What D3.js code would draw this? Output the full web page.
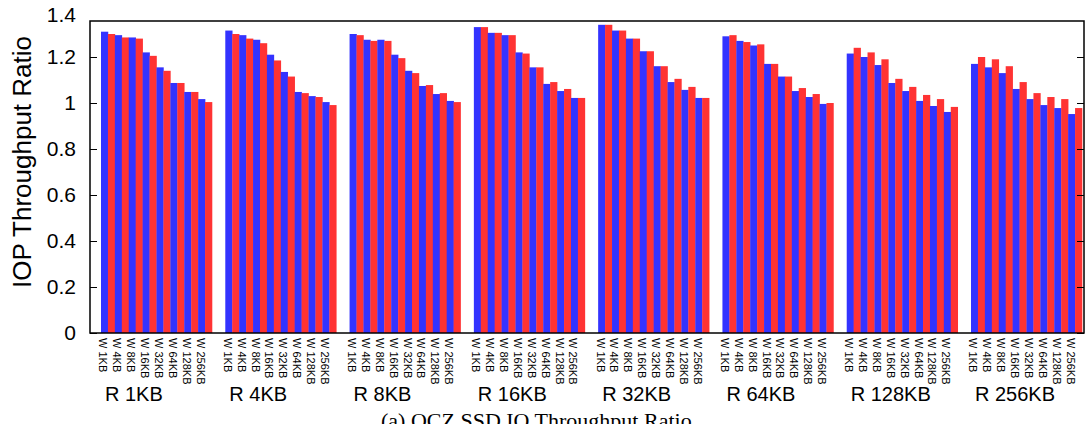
<!DOCTYPE html>
<html><head><meta charset="utf-8">
<script src="https://cdn.jsdelivr.net/npm/d3@7"></script>
<style>body{margin:0;background:#fff}svg{display:block}</style>
</head><body>
<svg id="c" width="1086" height="424"></svg>
<script>
const groups = ["R 1KB","R 4KB","R 8KB","R 16KB","R 32KB","R 64KB","R 128KB","R 256KB"];
const writeSizes = ["W 1KB","W 4KB","W 8KB","W 16KB","W 32KB","W 64KB","W 128KB","W 256KB"];
const yTicks = [0,0.2,0.4,0.6,0.8,1,1.2,1.4];
const blueRatio = [
  [1.31,1.295,1.285,1.22,1.155,1.087,1.048,1.017],
  [1.315,1.295,1.275,1.21,1.135,1.048,1.030,1.004],
  [1.30,1.275,1.275,1.21,1.14,1.074,1.039,1.009],
  [1.33,1.305,1.295,1.22,1.155,1.083,1.052,1.022],
  [1.34,1.315,1.28,1.225,1.16,1.091,1.057,1.022],
  [1.29,1.27,1.25,1.17,1.115,1.052,1.026,0.996],
  [1.215,1.20,1.165,1.087,1.052,1.009,0.987,0.961],
  [1.17,1.155,1.13,1.061,1.017,0.991,0.978,0.952]
];
const redRatio = [
  [1.30,1.285,1.28,1.205,1.14,1.087,1.048,1.004],
  [1.30,1.28,1.26,1.185,1.115,1.043,1.026,0.991],
  [1.295,1.27,1.27,1.195,1.13,1.078,1.043,1.004],
  [1.33,1.305,1.295,1.215,1.155,1.091,1.061,1.022],
  [1.34,1.315,1.28,1.225,1.16,1.105,1.070,1.022],
  [1.295,1.265,1.255,1.17,1.115,1.065,1.039,1.0],
  [1.24,1.22,1.19,1.105,1.070,1.035,1.017,0.983],
  [1.20,1.19,1.16,1.091,1.043,1.026,1.017,0.978]
];
const seriesColors = ["#3333ff","#ff3333"];
const yTitle = "IOP Throughput Ratio";
const caption = "(a) OCZ SSD IO Throughput Ratio";

const svg = d3.select("#c");
const frame = {left:90, right:1084, top:21, bottom:333};
const y = d3.scaleLinear().domain([0,1.4]).range([333,11]);
const gx = d3.scaleBand().domain(groups).range([101,1082]).paddingInner(0.107).paddingOuter(0);
const sx = d3.scaleBand().domain(writeSizes).range([0,gx.bandwidth()]).padding(0);
const bw = sx.bandwidth()/2;

const rows = [];
groups.forEach((g,gi)=>writeSizes.forEach((w,wi)=>{
  rows.push({g,w,s:0,v:blueRatio[gi][wi]});
  rows.push({g,w,s:1,v:redRatio[gi][wi]});
}));

svg.append("g").selectAll("rect").data(rows).join("rect")
  .attr("x",d=>gx(d.g)+sx(d.w)+d.s*bw)
  .attr("width",bw+0.3)
  .attr("y",d=>y(d.v))
  .attr("height",d=>y(0)-y(d.v))
  .attr("fill",d=>seriesColors[d.s]);

// inward ticks
const fmt = d=> d===0?"0":(d===1?"1":d.toFixed(1));
svg.append("g").attr("transform",`translate(${frame.left},0)`)
  .call(d3.axisLeft(y).tickValues(yTicks.filter(t=>y(t)>=frame.top)).tickSize(-7).tickFormat(""))
  .call(g=>{g.select(".domain").remove();g.selectAll("line").attr("stroke","#000").attr("stroke-width",1);});
svg.append("g").attr("transform",`translate(${frame.right},0)`)
  .call(d3.axisRight(y).tickValues(yTicks.filter(t=>y(t)>=frame.top)).tickSize(-7).tickFormat(""))
  .call(g=>{g.select(".domain").remove();g.selectAll("line").attr("stroke","#000").attr("stroke-width",1);});

// labels
const yl = svg.append("g").attr("transform",`translate(${frame.left},0)`)
  .call(d3.axisLeft(y).tickValues(yTicks).tickSize(0).tickPadding(14).tickFormat(fmt));
yl.select(".domain").remove();
yl.selectAll("text").attr("font-family","'Liberation Sans',Arial,sans-serif").attr("font-size",21).attr("fill","#000");
yl.selectAll(".tick").filter(d=>d===1.4).select("text").attr("dy","0.5em");

// frame
svg.append("rect").attr("x",frame.left).attr("y",frame.top)
  .attr("width",frame.right-frame.left).attr("height",frame.bottom-frame.top)
  .attr("fill","none").attr("stroke","#000").attr("stroke-width",1.5);

// x sub labels
const xl = svg.append("g").attr("font-family","'Liberation Sans',Arial,sans-serif").attr("font-size",11);
groups.forEach(g=>writeSizes.forEach(w=>{
  const cx = gx(g)+sx(w)+bw/2-1;
  xl.append("text").attr("transform",`translate(${cx},338) rotate(90)`)
    .attr("dominant-baseline","central").text(w);
}));
// group labels
svg.append("g").selectAll("text").data(groups).join("text")
  .attr("x",d=>gx(d)+4).attr("y",401)
  .attr("font-family","'Liberation Sans',Arial,sans-serif").attr("font-size",20)
  .text(d=>d);

svg.append("text").attr("transform","translate(22,162) rotate(-90)")
  .attr("text-anchor","middle").attr("dominant-baseline","central")
  .attr("font-family","'Liberation Sans',Arial,sans-serif").attr("font-size",26)
  .text(yTitle);

svg.append("text").attr("x",381).attr("y",428)
  .attr("font-family","'Liberation Serif','Times New Roman',serif").attr("font-size",22)
  .text(caption);
</script>
</body></html>
